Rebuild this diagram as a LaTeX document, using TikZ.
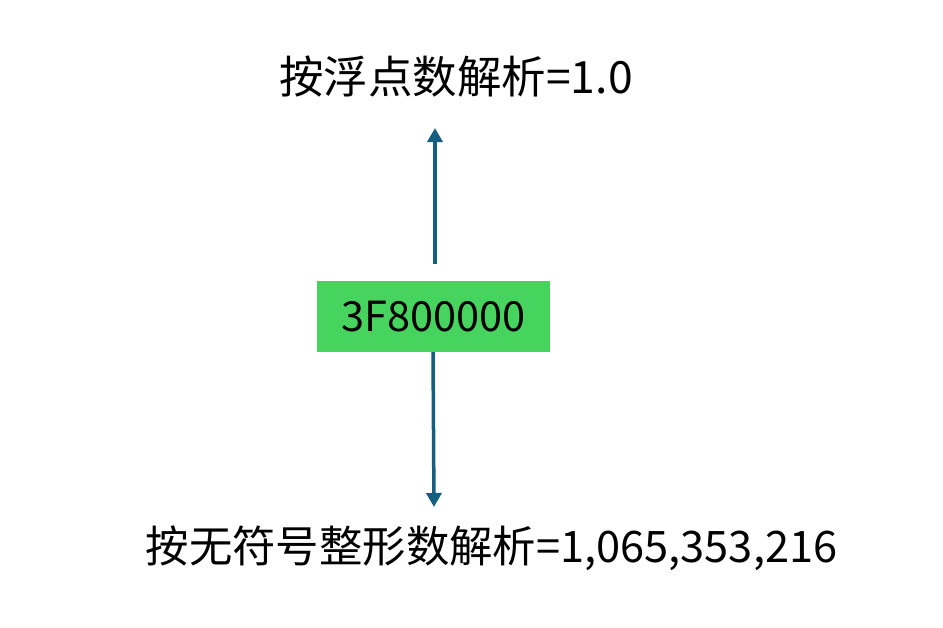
\documentclass[tikz,border=0pt]{standalone}
\usepackage{fontspec}
\setmainfont{Noto Sans CJK SC}
\definecolor{boxgreen}{RGB}{71,212,94}
\definecolor{arrowblue}{RGB}{22,94,128}
\usetikzlibrary{arrows.meta}
\begin{document}
\begin{tikzpicture}[x=1pt,y=-1pt,
  lbl/.style={inner sep=0pt,font=\fontsize{44.5}{52}\selectfont},
  hexbox/.style={fill=boxgreen,minimum width=233pt,minimum height=71pt,inner sep=0pt,font=\fontsize{41.5}{48}\selectfont},
  conn/.style={draw=arrowblue,line width=3.5pt,-{Triangle[length=14pt,width=15pt]}}]
\useasboundingbox (0,0) rectangle (943,627);
\node[hexbox] (hex) at (433.5,316.5) {3F800000};
\node[lbl] (top) at (456,77) {按浮点数解析=1.0};
\node[lbl,font=\fontsize{43.4}{52}\selectfont] (bot) at (491.5,548) {按无符号整形数解析=1,065,353,216};
\coordinate (upstart) at (435,264);
\coordinate (uptip) at (435,128);
\coordinate (dntip) at (434,507);
\draw[conn] (upstart) -- (uptip);
\draw[conn] (hex.south -| 433,0) -- (dntip);
\end{tikzpicture}
\end{document}
